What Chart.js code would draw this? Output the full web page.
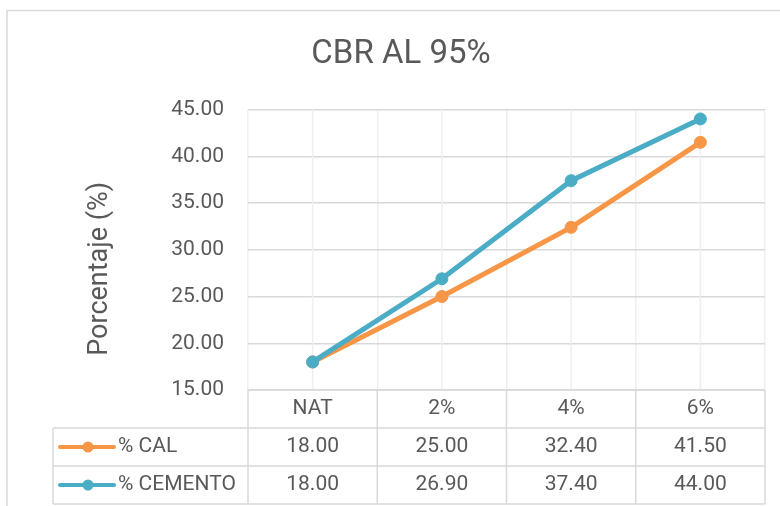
<!DOCTYPE html>
<html lang="es">
<head>
    <meta charset="UTF-8">
    <title>CBR AL 95%</title>
    <script src="https://cdn.jsdelivr.net/npm/chart.js"></script>
    <style>
        body {
            margin: 0;
            padding: 0;
            background-color: #ffffff;
        }
        #chart-box {
            width: 780px;
            height: 506px;
        }
    </style>
</head>
<body>
    <div id="chart-box">
        <canvas id="cbrChart"></canvas>
    </div>

    <script>
        // datos
        const categories = ['NAT', '2%', '4%', '6%'];
        const seriesNames = ['% CAL', '% CEMENTO'];
        const calValues = [18.00, 25.00, 32.40, 41.50];
        const cementoValues = [18.00, 26.90, 37.40, 44.00];
        const yTicks = [15, 20, 25, 30, 35, 40, 45];

        const textColor = '#595959';
        const orange = '#F79646';
        const blue = '#4BACC6';
        const fontFamily = "Roboto, 'Open Sans', sans-serif";

        const headerHeight = 38;
        const rowHeight = 38;
        const tableLeft = 53;

        // bordes del grafico, lineas centrales y tabla de datos
        const tablePlugin = {
            id: 'dataTable',
            beforeDraw(chart) {
                const ctx = chart.ctx;
                ctx.save();
                ctx.fillStyle = '#ffffff';
                ctx.fillRect(0, 0, chart.width, chart.height);
                ctx.strokeStyle = '#d9d9d9';
                ctx.lineWidth = 1.5;
                ctx.strokeRect(7, 10.5, chart.width + 50, chart.height + 50);
                ctx.restore();
            },
            beforeDatasetsDraw(chart) {
                const { ctx, chartArea } = chart;
                const x = chart.scales.x;
                ctx.save();
                ctx.strokeStyle = '#efefef';
                ctx.lineWidth = 1.5;
                categories.forEach((c, i) => {
                    const px = x.getPixelForValue(i);
                    ctx.beginPath();
                    ctx.moveTo(px, chartArea.top);
                    ctx.lineTo(px, chartArea.bottom);
                    ctx.stroke();
                });
                ctx.restore();
            },
            afterDraw(chart) {
                const { ctx, chartArea } = chart;
                const x = chart.scales.x;
                const top = chartArea.bottom;
                const row1 = top + headerHeight;
                const bottom = row1 + rowHeight * seriesNames.length;

                ctx.save();
                ctx.strokeStyle = '#d9d9d9';
                ctx.lineWidth = 1.5;

                // lineas horizontales
                ctx.beginPath();
                ctx.moveTo(chartArea.left, top);
                ctx.lineTo(chartArea.right, top);
                for (let r = 0; r <= seriesNames.length; r++) {
                    const y = row1 + r * rowHeight;
                    ctx.moveTo(tableLeft, y);
                    ctx.lineTo(chartArea.right, y);
                }
                // lineas verticales
                const bounds = [chartArea.left];
                for (let i = 1; i < categories.length; i++) {
                    bounds.push((x.getPixelForValue(i - 1) + x.getPixelForValue(i)) / 2);
                }
                bounds.push(chartArea.right);
                bounds.forEach(b => {
                    ctx.moveTo(b, top);
                    ctx.lineTo(b, bottom);
                });
                ctx.moveTo(tableLeft, row1);
                ctx.lineTo(tableLeft, bottom);
                ctx.stroke();

                // filas de series
                ctx.font = '21px ' + fontFamily;
                ctx.textBaseline = 'middle';
                chart.data.datasets.forEach((ds, r) => {
                    const cy = row1 + r * rowHeight + rowHeight / 2;
                    // clave de leyenda
                    ctx.strokeStyle = ds.borderColor;
                    ctx.lineWidth = 4;
                    ctx.lineCap = 'round';
                    ctx.beginPath();
                    ctx.moveTo(60, cy);
                    ctx.lineTo(114, cy);
                    ctx.stroke();
                    ctx.fillStyle = ds.borderColor;
                    ctx.beginPath();
                    ctx.arc(88, cy, 5.5, 0, Math.PI * 2);
                    ctx.fill();

                    ctx.fillStyle = textColor;
                    ctx.textAlign = 'left';
                    ctx.fillText(ds.label, 118, cy);

                    ctx.textAlign = 'center';
                    ds.data.forEach((v, i) => {
                        ctx.fillText(v.toFixed(2), x.getPixelForValue(i), cy);
                    });
                });

                // titulo del eje Y
                ctx.fillStyle = textColor;
                ctx.font = '27px ' + fontFamily;
                ctx.textAlign = 'center';
                ctx.translate(100, (chartArea.top + row1) / 2);
                ctx.rotate(-Math.PI / 2);
                ctx.fillText('Porcentaje (%)', 0, 0);
                ctx.restore();
            }
        };

        Chart.defaults.font.family = fontFamily;
        Chart.defaults.color = textColor;

        const ctx = document.getElementById('cbrChart').getContext('2d');
        new Chart(ctx, {
            type: 'line',
            data: {
                labels: categories,
                datasets: [{
                    label: seriesNames[0],
                    data: calValues,
                    borderColor: orange,
                    backgroundColor: orange,
                    pointBackgroundColor: orange,
                    pointBorderColor: orange,
                    borderWidth: 5,
                    pointRadius: 6,
                    pointBorderWidth: 1,
                    tension: 0,
                    order: 2
                }, {
                    label: seriesNames[1],
                    data: cementoValues,
                    borderColor: blue,
                    backgroundColor: blue,
                    pointBackgroundColor: blue,
                    pointBorderColor: blue,
                    borderWidth: 5,
                    pointRadius: 6,
                    pointBorderWidth: 1,
                    tension: 0,
                    order: 1
                }]
            },
            options: {
                responsive: true,
                maintainAspectRatio: false,
                animation: false,
                layout: {
                    padding: { left: 37, right: 15, top: 0, bottom: 0 }
                },
                plugins: {
                    legend: { display: false },
                    tooltip: { enabled: false },
                    title: {
                        display: true,
                        text: 'CBR AL 95%',
                        color: textColor,
                        font: { size: 33, weight: 'normal' },
                        padding: { top: 35, bottom: 35 }
                    }
                },
                scales: {
                    x: {
                        offset: true,
                        afterFit(scale) { scale.height = 116; },
                        border: { display: false },
                        grid: {
                            offset: true,
                            color: '#efefef',
                            lineWidth: 1.5,
                            drawTicks: false
                        },
                        ticks: {
                            color: textColor,
                            font: { size: 21 },
                            padding: 6
                        }
                    },
                    y: {
                        min: yTicks[0],
                        max: yTicks[yTicks.length - 1],
                        afterFit(scale) { scale.width = 211; },
                        afterBuildTicks(scale) {
                            scale.ticks = yTicks.map(v => ({ value: v }));
                        },
                        border: { display: false },
                        grid: {
                            color: '#d9d9d9',
                            lineWidth: 1.5,
                            drawTicks: false
                        },
                        ticks: {
                            color: textColor,
                            font: { size: 21 },
                            padding: 24,
                            callback: v => v.toFixed(2)
                        }
                    }
                }
            },
            plugins: [tablePlugin]
        });
    </script>
</body>
</html>
